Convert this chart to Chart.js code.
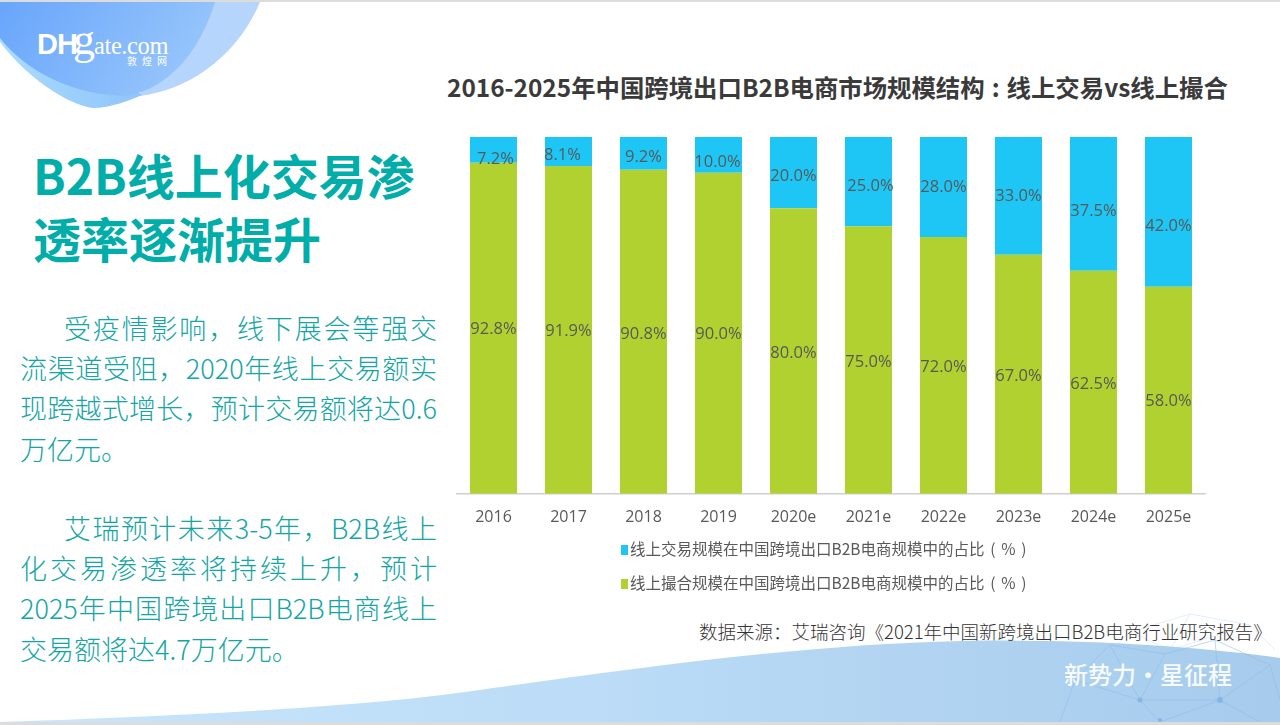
<!DOCTYPE html>
<html lang="zh">
<head>
<meta charset="utf-8">
<title>B2B线上化交易渗透率</title>
<script src="https://cdn.jsdelivr.net/npm/chart.js@4"></script>
<style>
  html, body { margin: 0; padding: 0; background: #fff; }
  body { width: 1280px; height: 725px; overflow: hidden; position: relative; font-family: "Noto Sans CJK SC", sans-serif; }
  #bg { position: absolute; left: 0; top: 0; }
  #chart-box { position: absolute; left: 456px; top: 127px; width: 750px; height: 414px; }
  .title { position: absolute; left: 447px; top: 71px; font-size: 24.4px; font-weight: 700; color: #3a3a3a; white-space: nowrap; line-height: 32px; }
  .title b { font-weight: 700; margin: 0 7px; }
  .heading { position: absolute; left: 33px; font-size: 48px; font-weight: 700; color: #00ada9; white-space: nowrap; line-height: 60px; }
  .body-line { position: absolute; left: 20px; width: 417px; font-size: 27px; font-weight: 300; color: #14a5a5; line-height: 36px; white-space: nowrap; text-align: justify; text-align-last: justify; }
  .body-line.indent { left: 64px; width: 373px; }
  .body-line.last { width: auto; text-align-last: left; }
  .legend-row { position: absolute; left: 621px; font-size: 15.5px; color: #595959; white-space: nowrap; line-height: 22px; word-spacing: 2.3px; }
  .legend-row i { display: inline-block; width: 7px; height: 10px; margin-right: 2px; }
  .source { position: absolute; left: 699px; top: 617px; font-size: 18.5px; font-weight: 300; color: #333; white-space: nowrap; line-height: 28px; }
</style>
</head>
<body>
<svg id="bg" width="1280" height="725" viewBox="0 0 1280 725">
  <defs>
    <linearGradient id="blobMain" x1="0" y1="0" x2="1" y2="0.3">
      <stop offset="0" stop-color="#68a5fb"/>
      <stop offset="1" stop-color="#96c5fb"/>
    </linearGradient>
    <linearGradient id="blobLeft" x1="0" y1="0" x2="1" y2="0">
      <stop offset="0" stop-color="#a9dcfd"/>
      <stop offset="1" stop-color="#8fc4fb"/>
    </linearGradient>
    <linearGradient id="wave" x1="0" y1="0" x2="1" y2="0">
      <stop offset="0" stop-color="#c8e6fc"/>
      <stop offset="0.45" stop-color="#bcdcf7"/>
      <stop offset="1" stop-color="#a6cbec"/>
    </linearGradient>
  </defs>
  <rect x="0" y="0" width="1280" height="2" fill="#dcdcdc"/>
  <path d="M150,2 L260,2 C238,55 190,90 140,96 Z" fill="#b5d5fc"/>
  <path d="M0,42 C30,82 75,108 95,108 C112,107 128,101 142,95 L100,60 L0,30 Z" fill="url(#blobLeft)"/>
  <path d="M0,2 L215,2 C200,50 172,86 128,96 C72,96 25,70 0,38 Z" fill="url(#blobMain)"/>
  <g stroke="#bcd8f2" stroke-width="0.6" fill="none" opacity="0.7">
    <path d="M1100,660 L1130,632 L1190,614 L1250,625 L1275,650 M1130,632 L1170,650 L1190,614 M1170,650 L1250,625"/>
  </g>
  <path d="M0,722 C180,716 340,708 450,694 C600,674 780,645 963,641 C1080,639 1190,645 1280,658 L1280,722 Z" fill="url(#wave)"/>
  <g stroke="#8fbdea" stroke-width="0.7" fill="none" opacity="0.8">
    <path d="M1060,722 L1075,680 L1110,645 L1165,654 L1215,640 L1270,665 L1280,700"/>
    <path d="M1075,680 L1140,700 L1220,700 L1270,665 M1110,645 L1140,700 L1160,722 M1165,654 L1140,700 M1215,640 L1220,700 L1260,722 M1220,700 L1160,722"/>
  </g>
  <g fill="#86b6e8">
    <circle cx="1140" cy="700" r="2.5"/>
    <circle cx="1220" cy="700" r="3"/>
    <circle cx="1160" cy="720" r="2"/>
    <circle cx="1075" cy="680" r="1.5"/>
  </g>
  <rect x="0" y="722" width="1280" height="3" fill="#dcdcdc"/>
  <g fill="#fff">
    <text x="37" y="54" font-family="Liberation Sans" font-weight="700" font-size="29" letter-spacing="-1">DH</text>
    <text x="73" y="54" font-family="Liberation Serif" font-size="44">g</text>
    <text x="94" y="54" font-family="Liberation Serif" font-size="24.5" letter-spacing="-0.4">ate.com</text>
    <text x="127" y="65" font-family="Noto Sans CJK SC" font-size="10" letter-spacing="5">敦煌网</text>
    <text x="1064" y="684" font-family="Noto Sans CJK SC" font-size="24" font-weight="500" opacity="0.92">新势力·星征程</text>
  </g>
</svg>

<div class="title">2016-2025年中国跨境出口B2B电商市场规模结构<b>:</b>线上交易vs线上撮合</div>
<div class="heading" style="top:144px">B2B线上化交易渗</div>
<div class="heading" style="top:207px">透率逐渐提升</div>

<div class="body-line indent" style="top:310px">受疫情影响，线下展会等强交</div>
<div class="body-line" style="top:350px">流渠道受阻，2020年线上交易额实</div>
<div class="body-line" style="top:390px">现跨越式增长，预计交易额将达0.6</div>
<div class="body-line last" style="top:431px">万亿元。</div>
<div class="body-line indent" style="top:510px">艾瑞预计未来3-5年，B2B线上</div>
<div class="body-line" style="top:550px">化交易渗透率将持续上升，预计</div>
<div class="body-line" style="top:590px">2025年中国跨境出口B2B电商线上</div>
<div class="body-line last" style="top:631px">交易额将达4.7万亿元。</div>

<div id="chart-box"><canvas id="share-chart"></canvas></div>
<div id="legend"></div>
<div class="source">数据来源：艾瑞咨询《2021年中国新跨境出口B2B电商行业研究报告》</div>

<script>
// Chart data
const years = ['2016', '2017', '2018', '2019', '2020e', '2021e', '2022e', '2023e', '2024e', '2025e'];
const onlineTrade = [7.2, 8.1, 9.2, 10.0, 20.0, 25.0, 28.0, 33.0, 37.5, 42.0];
const onlineMatch = [92.8, 91.9, 90.8, 90.0, 80.0, 75.0, 72.0, 67.0, 62.5, 58.0];
const tradeName = '线上交易规模在中国跨境出口B2B电商规模中的占比 ( % )';
const matchName = '线上撮合规模在中国跨境出口B2B电商规模中的占比 ( % )';

// The value labels sit a little off-centre in the original
const tradeNudge = [[2, 9], [-6, 4], [0, 4], [-1, 7], [0, 4], [2, 5], [0, 0], [0, 0], [0, 7], [0, 14]];
const matchNudge = [[0, 1], [0, 1], [0, 2], [0, 1], [0, 2], [0, 2], [0, 2], [0, 2], [0, 2], [0, 11]];

// Draws the percent labels on top of the bars
const valueLabels = {
  id: 'valueLabels',
  afterDatasetsDraw(chart) {
    const { ctx } = chart;
    ctx.save();
    ctx.font = '16.5px "Open Sans"';
    ctx.fillStyle = '#595959';
    ctx.textAlign = 'center';
    ctx.textBaseline = 'middle';
    chart.data.datasets.forEach((dataset, i) => {
      const nudge = i === 0 ? matchNudge : tradeNudge;
      chart.getDatasetMeta(i).data.forEach((bar, j) => {
        const mid = bar.getCenterPoint();
        ctx.fillText(dataset.data[j].toFixed(1) + '%', mid.x + nudge[j][0], mid.y + nudge[j][1]);
      });
    });
    ctx.restore();
  }
};

const shareChart = new Chart(document.getElementById('share-chart'), {
  type: 'bar',
  data: {
    labels: years,
    datasets: [
      { label: matchName, data: onlineMatch, backgroundColor: '#b0d130', stack: 's' },
      { label: tradeName, data: onlineTrade, backgroundColor: '#1dc6f4', stack: 's' }
    ]
  },
  options: {
    responsive: true,
    maintainAspectRatio: false,
    animation: false,
    layout: { padding: { top: 10, left: 0, right: 0, bottom: 0 } },
    datasets: { bar: { categoryPercentage: 1, barPercentage: 0.627 } },
    plugins: {
      legend: { display: false },
      tooltip: { enabled: false }
    },
    scales: {
      x: {
        stacked: true,
        grid: { display: false, drawTicks: false },
        border: { color: '#cfcfcf', width: 1.5 },
        ticks: { color: '#595959', font: { family: '"Open Sans"', size: 16 }, padding: 14, maxRotation: 0 }
      },
      y: {
        stacked: true,
        display: false,
        min: 0,
        max: 100
      }
    }
  },
  plugins: [valueLabels]
});

// Legend, top row is the blue series
const legendEl = document.getElementById('legend');
[[1, 537], [0, 571]].forEach(([datasetIndex, top]) => {
  const dataset = shareChart.data.datasets[datasetIndex];
  const row = document.createElement('div');
  row.className = 'legend-row';
  row.style.top = top + 'px';
  row.innerHTML = `<i style="background:${dataset.backgroundColor}"></i>${dataset.label}`;
  legendEl.appendChild(row);
});
</script>
</body>
</html>
